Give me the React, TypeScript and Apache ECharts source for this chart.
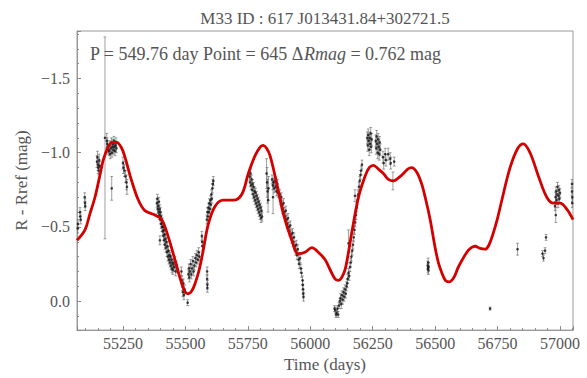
import React, { useEffect, useRef } from "react";
import * as echarts from "echarts";

const titleText = "M33 ID : 617 J013431.84+302721.5";
const xAxisName = "Time (days)";
const yAxisName = "R - Rref (mag)";
const periodDays = 549.76;
const pointCount = 645;
const deltaRmag = 0.762;

const xMin = 55066;
const xMax = 57052;
const yMin = -1.82;
const yMax = 0.195;

// fitted model curve (red)
const modelTime = [
  55066, 55098, 55118, 55138, 55158, 55171, 55191, 55208, 55225, 55245, 55258, 55285,
  55312, 55338, 55378, 55405, 55432, 55458, 55485, 55500, 55512, 55526, 55539, 55555,
  55570, 55592, 55619, 55652, 55692, 55726, 55752, 55779, 55800, 55812, 55825, 55839,
  55866, 55892, 55926, 55952, 55979, 56006, 56032, 56059, 56080, 56099, 56113, 56126,
  56139, 56152, 56166, 56193, 56219, 56236, 56253, 56273, 56293, 56313, 56333, 56353,
  56373, 56390, 56406, 56426, 56446, 56463, 56480, 56500, 56513, 56527, 56541, 56556,
  56575, 56593, 56627, 56645, 56660, 56680, 56700, 56716, 56733, 56750, 56767, 56800,
  56831, 56853, 56880, 56914, 56947, 56974, 57000, 57027, 57052,
];
const modelMag = [
  -0.41, -0.48, -0.59, -0.70, -0.85, -0.95, -1.04, -1.07, -1.07, -1.03, -0.97, -0.81,
  -0.68, -0.61, -0.58, -0.55, -0.43, -0.28, -0.12, -0.06, -0.05, -0.07, -0.12, -0.21,
  -0.33, -0.52, -0.64, -0.68, -0.68, -0.72, -0.86, -0.98, -1.04, -1.05, -1.03, -0.98,
  -0.79, -0.59, -0.41, -0.32, -0.33, -0.36, -0.33, -0.28, -0.21, -0.15, -0.14, -0.16,
  -0.21, -0.32, -0.46, -0.70, -0.84, -0.9, -0.915, -0.89, -0.86, -0.82, -0.81, -0.83,
  -0.86, -0.89, -0.90, -0.87, -0.79, -0.68, -0.55, -0.36, -0.26, -0.19, -0.14, -0.13,
  -0.16, -0.23, -0.33, -0.36, -0.37, -0.355, -0.35, -0.38, -0.46, -0.56, -0.68, -0.90,
  -1.03, -1.06, -1.00, -0.84, -0.70, -0.66, -0.66, -0.62, -0.55,
];

// observations: [time (days), R - Rref (mag), error (mag)]
const obsSeason1: [number, number, number][] = [
  [55069, -0.49, 0.03], [55070, -0.52, 0.03], [55078, -0.60, 0.03], [55079, -0.57, 0.03],
  [55081, -0.55, 0.03], [55097, -0.70, 0.03], [55098, -0.66, 0.03], [55099, -0.64, 0.03],
  [55146, -0.94, 0.04], [55148, -0.97, 0.04], [55150, -0.92, 0.04], [55151, -0.90, 0.04],
  [55153, -0.88, 0.03], [55155, -0.95, 0.04], [55157, -0.91, 0.03],
  [55178, -1.10, 0.68],
  [55185, -1.08, 0.05], [55187, -1.06, 0.04], [55189, -1.04, 0.04], [55192, -1.02, 0.03],
  [55195, -1.01, 0.03], [55197, -1.05, 0.03], [55199, -0.99, 0.03], [55202, -1.03, 0.03],
  [55204, -1.07, 0.03], [55205, -0.76, 0.08], [55206, -1.00, 0.03], [55208, -1.04, 0.03],
  [55210, -1.06, 0.03], [55212, -1.02, 0.03], [55214, -1.08, 0.03], [55216, -1.04, 0.03],
  [55218, -1.01, 0.03], [55220, -1.05, 0.03], [55222, -1.07, 0.03], [55224, -1.03, 0.03],
  [55250, -0.93, 0.04], [55252, -0.90, 0.04], [55256, -0.88, 0.04], [55260, -0.84, 0.04],
  [55264, -0.80, 0.05], [55266, -0.77, 0.05],
];
const obsSeason2: [number, number, number][] = [
  [55386, -0.66, 0.03], [55388, -0.69, 0.03], [55389, -0.62, 0.03], [55391, -0.64, 0.03],
  [55393, -0.60, 0.03], [55394, -0.67, 0.03], [55396, -0.58, 0.03], [55397, -0.62, 0.03],
  [55398, -0.41, 0.03], [55399, -0.55, 0.03], [55400, -0.60, 0.03], [55402, -0.57, 0.03],
  [55403, -0.52, 0.03], [55405, -0.55, 0.03], [55406, -0.50, 0.03], [55408, -0.53, 0.03],
  [55409, -0.47, 0.03], [55411, -0.50, 0.03], [55412, -0.44, 0.03], [55414, -0.48, 0.03],
  [55415, -0.41, 0.03], [55417, -0.45, 0.03], [55418, -0.38, 0.03], [55420, -0.42, 0.03],
  [55422, -0.36, 0.03], [55424, -0.40, 0.03], [55426, -0.33, 0.03], [55428, -0.37, 0.03],
  [55430, -0.30, 0.03], [55432, -0.34, 0.03], [55434, -0.28, 0.03], [55436, -0.31, 0.03],
  [55438, -0.26, 0.03], [55440, -0.30, 0.03], [55442, -0.24, 0.03], [55444, -0.28, 0.03],
  [55446, -0.22, 0.03], [55448, -0.26, 0.03], [55450, -0.21, 0.03], [55452, -0.25, 0.03],
  [55455, -0.23, 0.03], [55458, -0.27, 0.03], [55461, -0.20, 0.03], [55464, -0.24, 0.03],
  [55467, -0.22, 0.03],
  [55484, -0.20, 0.03], [55486, -0.14, 0.03], [55488, -0.10, 0.03], [55490, -0.06, 0.03],
  [55492, -0.12, 0.03], [55494, -0.04, 0.03], [55497, -0.08, 0.03], [55509, 0.01, 0.02],
  [55512, -0.18, 0.03], [55514, -0.22, 0.03], [55516, -0.16, 0.03], [55518, -0.20, 0.03],
  [55521, -0.25, 0.03], [55524, -0.18, 0.03], [55527, -0.22, 0.03], [55530, -0.27, 0.03],
  [55533, -0.20, 0.03], [55536, -0.24, 0.03], [55540, -0.29, 0.03], [55543, -0.26, 0.03],
  [55546, -0.31, 0.03], [55550, -0.28, 0.03], [55553, -0.33, 0.03], [55556, -0.30, 0.03],
  [55566, -0.44, 0.03], [55567, -0.40, 0.03], [55568, -0.37, 0.03],
  [55587, -0.20, 0.03], [55587, -0.15, 0.03], [55588, -0.11, 0.03], [55588, -0.09, 0.03],
  [55586, -0.55, 0.03], [55588, -0.60, 0.03], [55590, -0.57, 0.03], [55592, -0.63, 0.03],
  [55594, -0.60, 0.03], [55596, -0.66, 0.03], [55598, -0.62, 0.03], [55600, -0.68, 0.03],
  [55602, -0.65, 0.03], [55604, -0.72, 0.03], [55606, -0.69, 0.03], [55608, -0.76, 0.03],
  [55610, -0.79, 0.03], [55612, -0.81, 0.03],
];
const obsSeason3: [number, number, number][] = [
  [55757, -0.84, 0.03], [55759, -0.80, 0.03], [55761, -0.86, 0.03], [55763, -0.78, 0.03],
  [55765, -0.82, 0.03], [55767, -0.75, 0.03], [55769, -0.79, 0.03], [55771, -0.72, 0.03],
  [55773, -0.77, 0.03], [55775, -0.70, 0.03], [55777, -0.74, 0.03], [55779, -0.68, 0.03],
  [55781, -0.73, 0.03], [55783, -0.66, 0.03], [55785, -0.71, 0.03], [55787, -0.64, 0.03],
  [55789, -0.69, 0.03], [55791, -0.62, 0.03], [55793, -0.67, 0.03], [55795, -0.60, 0.03],
  [55797, -0.65, 0.03], [55799, -0.58, 0.03], [55801, -0.63, 0.03], [55803, -0.56, 0.03],
  [55805, -0.61, 0.03], [55807, -0.57, 0.03],
  [55825, -0.86, 0.10], [55827, -0.80, 0.10], [55829, -0.74, 0.08], [55831, -0.68, 0.08],
  [55833, -0.76, 0.08], [55851, -0.70, 0.11],
  [55847, -0.82, 0.03], [55850, -0.78, 0.03], [55853, -0.80, 0.03], [55856, -0.76, 0.03],
  [55859, -0.81, 0.03], [55862, -0.77, 0.03], [55865, -0.74, 0.03], [55868, -0.79, 0.03],
  [55871, -0.73, 0.03],
  [55878, -0.72, 0.03], [55881, -0.68, 0.03], [55884, -0.70, 0.03], [55887, -0.65, 0.03],
  [55890, -0.62, 0.03], [55893, -0.66, 0.03], [55896, -0.60, 0.03], [55899, -0.57, 0.03],
  [55902, -0.61, 0.03], [55905, -0.55, 0.03], [55908, -0.52, 0.03], [55911, -0.56, 0.03],
  [55914, -0.50, 0.03], [55917, -0.47, 0.03], [55920, -0.51, 0.03], [55923, -0.45, 0.03],
  [55926, -0.42, 0.03], [55929, -0.46, 0.03], [55932, -0.40, 0.03], [55935, -0.43, 0.03],
  [55938, -0.37, 0.03], [55941, -0.34, 0.03], [55944, -0.38, 0.03], [55947, -0.31, 0.03],
  [55950, -0.35, 0.03], [55953, -0.28, 0.03], [55956, -0.25, 0.03], [55959, -0.29, 0.03],
  [55962, -0.22, 0.03], [55965, -0.19, 0.03],
  [55969, -0.14, 0.03], [55970, -0.11, 0.03], [55971, -0.08, 0.03], [55972, -0.05, 0.03],
  [55973, -0.03, 0.03],
];
const obsSeason4: [number, number, number][] = [
  [56097, 0.05, 0.02], [56100, 0.06, 0.02], [56103, 0.09, 0.02], [56106, 0.08, 0.02],
  [56109, 0.05, 0.02], [56112, 0.09, 0.02], [56115, 0.03, 0.02], [56118, 0.00, 0.02],
  [56121, -0.02, 0.03], [56124, 0.02, 0.03], [56127, -0.04, 0.03], [56130, -0.01, 0.03],
  [56133, -0.06, 0.03], [56136, -0.03, 0.03], [56139, -0.08, 0.03], [56142, -0.05, 0.03],
  [56145, -0.10, 0.03], [56148, -0.12, 0.03],
  [56150, -0.15, 0.03], [56153, -0.39, 0.09], [56153, -0.19, 0.03], [56156, -0.17, 0.03],
  [56159, -0.23, 0.03], [56162, -0.26, 0.03], [56165, -0.30, 0.03], [56168, -0.34, 0.03],
  [56171, -0.38, 0.03], [56174, -0.43, 0.03], [56177, -0.48, 0.03], [56179, -0.71, 0.04],
  [56180, -0.53, 0.03], [56183, -0.58, 0.03], [56186, -0.63, 0.03], [56189, -0.68, 0.03],
  [56192, -0.72, 0.03], [56195, -0.77, 0.03], [56198, -0.81, 0.03], [56201, -0.85, 0.03],
  [56204, -0.88, 0.03], [56207, -0.92, 0.03],
  [56228, -1.10, 0.04], [56230, -1.05, 0.04], [56232, -1.12, 0.04], [56234, -1.08, 0.04],
  [56236, -1.02, 0.04], [56238, -1.10, 0.04], [56240, -1.06, 0.04], [56242, -1.13, 0.04],
  [56244, -1.04, 0.04], [56246, -1.09, 0.04],
  [56262, -1.08, 0.04], [56264, -1.03, 0.04], [56266, -1.11, 0.04], [56268, -1.06, 0.04],
  [56270, -1.00, 0.04], [56272, -1.09, 0.04], [56274, -1.04, 0.04], [56276, -0.99, 0.04],
  [56278, -1.07, 0.04], [56280, -1.02, 0.04],
  [56291, -0.97, 0.04], [56294, -0.93, 0.04], [56300, -0.99, 0.04], [56303, -0.95, 0.04],
  [56312, -0.99, 0.04], [56320, -0.96, 0.04], [56322, -0.93, 0.04], [56336, -0.94, 0.03],
  [56331, -0.81, 0.06],
];
const obsSeason5: [number, number, number][] = [
  [56470, -0.24, 0.03], [56471, -0.22, 0.03], [56472, -0.26, 0.03], [56473, -0.21, 0.03],
  [56474, -0.23, 0.03],
  [56720, 0.05, 0.01],
  [56830, -0.35, 0.04],
  [56930, -0.32, 0.02], [56934, -0.29, 0.02], [56940, -0.34, 0.02], [56944, -0.43, 0.02],
  [56980, -0.64, 0.03], [56982, -0.70, 0.03], [56983, -0.58, 0.05], [56984, -0.74, 0.03],
  [56986, -0.68, 0.03], [56988, -0.72, 0.03], [56990, -0.77, 0.03], [56992, -0.66, 0.03],
  [56994, -0.71, 0.03], [56996, -0.75, 0.03], [56998, -0.69, 0.03], [57000, -0.73, 0.03],
  [57048, -0.79, 0.03], [57048, -0.74, 0.03], [57049, -0.70, 0.03], [57049, -0.66, 0.03],
];

const FONT = "Liberation Serif";
const TEXT = "#555";
const FRAME = "#9a9a9a";

export default function App() {
  const ref = useRef<HTMLDivElement>(null);

  useEffect(() => {
    document.body.style.margin = "0";
    const chart = echarts.init(ref.current as HTMLDivElement, null, { renderer: "svg" });
    const obs = [...obsSeason1, ...obsSeason2, ...obsSeason3, ...obsSeason4, ...obsSeason5];
    const model = modelTime.map((t, i) => [t, modelMag[i]]);
    const fmtMag = (v: number) => {
      const s = Math.abs(v).toFixed(1);
      return v < -1e-9 ? "\u2212" + s : s;
    };
    const labelStyle = { fontFamily: FONT, fontSize: 16, color: TEXT };

    chart.setOption({
      animation: false,
      textStyle: { fontFamily: FONT },
      title: {
        text: titleText,
        left: 325,
        top: 10,
        textAlign: "center",
        padding: 0,
        textStyle: { fontFamily: FONT, fontSize: 17, fontWeight: "normal", color: TEXT },
      },
      grid: {
        left: 77,
        right: 14,
        top: 31,
        bottom: 46,
        show: true,
        borderColor: FRAME,
        borderWidth: 1,
        backgroundColor: "transparent",
      },
      xAxis: {
        type: "value",
        min: xMin,
        max: xMax,
        minInterval: 250,
        maxInterval: 250,
        name: xAxisName,
        nameLocation: "middle",
        nameGap: 22,
        nameTextStyle: { fontFamily: FONT, fontSize: 17, color: TEXT },
        axisLine: { show: true, onZero: false, lineStyle: { color: FRAME } },
        axisTick: { show: true, inside: true, length: 4, lineStyle: { color: "#888" } },
        minorTick: { show: true, splitNumber: 5, length: 2, lineStyle: { color: "#888" } },
        splitLine: { show: false },
        axisLabel: {
          ...labelStyle,
          margin: 5,
          showMinLabel: false,
          showMaxLabel: false,
          formatter: (v: number) => String(Math.round(v)),
        },
      },
      yAxis: {
        type: "value",
        inverse: true,
        min: yMin,
        max: yMax,
        minInterval: 0.5,
        maxInterval: 0.5,
        name: yAxisName,
        nameLocation: "middle",
        nameGap: 47,
        nameTextStyle: { fontFamily: FONT, fontSize: 17, color: TEXT },
        axisLine: { show: true, onZero: false, lineStyle: { color: FRAME } },
        axisTick: { show: true, inside: true, length: 4, lineStyle: { color: "#888" } },
        minorTick: { show: true, splitNumber: 5, length: 2, lineStyle: { color: "#888" } },
        splitLine: { show: false },
        axisLabel: {
          ...labelStyle,
          margin: 7,
          showMinLabel: false,
          showMaxLabel: false,
          formatter: (v: number) => fmtMag(v),
        },
      },
      graphic: [
        {
          type: "text",
          left: 90,
          top: 45,
          z: 10,
          style: {
            text:
              "{a|P = " + periodDays + " day Point = " + pointCount + " \u0394}{b|Rmag}{a| = " +
              deltaRmag + " mag}",
            fontFamily: FONT,
            fontSize: 18,
            fill: TEXT,
            rich: {
              a: { fontFamily: FONT, fontSize: 18, color: TEXT },
              b: { fontFamily: FONT, fontSize: 18, color: TEXT, fontStyle: "italic" },
            },
          },
        },
      ],
      series: [
        {
          type: "custom",
          name: "errors",
          clip: true,
          data: obs,
          encode: { x: 0, y: 1 },
          renderItem: (params: any, api: any) => {
            const t = api.value(0);
            const m = api.value(1);
            const e = api.value(2);
            const a = api.coord([t, m - e]);
            const b = api.coord([t, m + e]);
            const c = 1.4;
            const st = { stroke: "#606060", lineWidth: 0.6 };
            return {
              type: "group",
              children: [
                { type: "line", shape: { x1: a[0], y1: a[1], x2: b[0], y2: b[1] }, style: st },
                { type: "line", shape: { x1: a[0] - c, y1: a[1], x2: a[0] + c, y2: a[1] }, style: st },
                { type: "line", shape: { x1: b[0] - c, y1: b[1], x2: b[0] + c, y2: b[1] }, style: st },
              ],
            };
          },
          z: 2,
        },
        {
          type: "scatter",
          name: "obs",
          data: obs.map((o) => [o[0], o[1]]),
          symbol: "circle",
          symbolSize: 2.6,
          itemStyle: { color: "#111" },
          z: 3,
        },
        {
          type: "line",
          name: "model",
          data: model,
          smooth: 0.35,
          symbol: "none",
          showSymbol: false,
          lineStyle: { color: "#d40000", width: 2.8 },
          z: 5,
        },
      ],
    });
    return () => chart.dispose();
  }, []);

  return <div ref={ref} style={{ width: 587, height: 378 }} />;
}
